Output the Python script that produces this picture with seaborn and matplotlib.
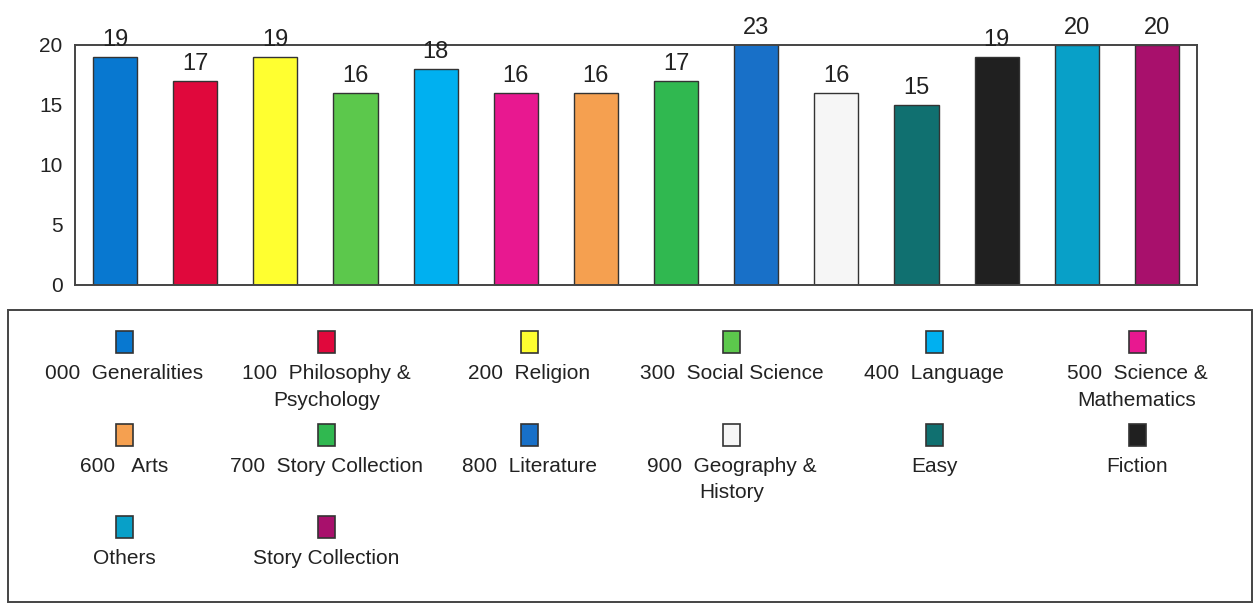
import matplotlib
matplotlib.use("Agg")
import matplotlib.pyplot as plt
from matplotlib.patches import Rectangle
import seaborn as sns
import pandas as pd

categories = ["000  Generalities", "100  Philosophy &\nPsychology", "200  Religion",
              "300  Social Science", "400  Language", "500  Science &\nMathematics",
              "600   Arts", "700  Story Collection", "800  Literature",
              "900  Geography &\nHistory", "Easy", "Fiction", "Others", "Story Collection"]
values = [19, 17, 19, 16, 18, 16, 16, 17, 23, 16, 15, 19, 20, 20]
colors = ["#0878d0", "#e0083c", "#ffff30", "#5cc84c", "#00b0f0", "#e81890",
          "#f5a050", "#30b850", "#1870c8", "#f6f6f6", "#107070", "#202020",
          "#08a0c8", "#a8106c"]
yticks = [0, 5, 10, 15, 20]

sns.set_style("white")
plt.rcParams["font.family"] = ["Liberation Sans", "DejaVu Sans"]

W, H = 1255, 612
fig = plt.figure(figsize=(W / 100, H / 100), dpi=100)
ax = fig.add_axes([75 / W, 1 - 285 / H, (1197 - 75) / W, (285 - 45) / H])

df = pd.DataFrame({"cat": categories, "val": values})
sns.barplot(data=df, x="cat", y="val", hue="cat", palette=colors, legend=False,
            width=0.55, edgecolor="#333333", linewidth=1.0, saturation=1, ax=ax)

ymax = 20
ax.set_ylim(0, ymax)
ax.set_xlim(-0.5, len(values) - 0.5)
ax.set_yticks(yticks)
ax.set_xticks([])
ax.set_xlabel("")
ax.set_ylabel("")
ax.tick_params(axis="y", length=0, pad=9, labelsize=15, labelcolor="#222222")
for s in ax.spines.values():
    s.set_visible(True)
    s.set_color("#444444")
    s.set_linewidth(1.4)

for i, v in enumerate(values):
    ax.annotate(str(v), (i, min(v, ymax)), xytext=(0, 4.5), textcoords="offset points",
                ha="center", va="bottom", fontsize=17, color="#222222",
                annotation_clip=False, clip_on=False)

# legend panel
lax = fig.add_axes([0, 0, 1, 1])
lax.set_xlim(0, W)
lax.set_ylim(H, 0)
lax.axis("off")
lax.add_patch(Rectangle((8, 310), 1244, 292, fill=False, edgecolor="#444444", linewidth=1.4))

ncol = 6
x0, dx = 124, 202.6
y0, dy = 342, 92.5
mw, mh = 17, 22
for k, (lab, c) in enumerate(zip(categories, colors)):
    r, col = divmod(k, ncol)
    cx = x0 + col * dx
    cy = y0 + r * dy
    lax.add_patch(Rectangle((cx - mw / 2, cy - mh / 2), mw, mh, facecolor=c,
                            edgecolor="#333333", linewidth=1.2))
    lax.text(cx, cy + 22, lab, ha="center", va="top", fontsize=15,
             color="#222222", linespacing=1.5)

fig.savefig("out.png", dpi=100)
